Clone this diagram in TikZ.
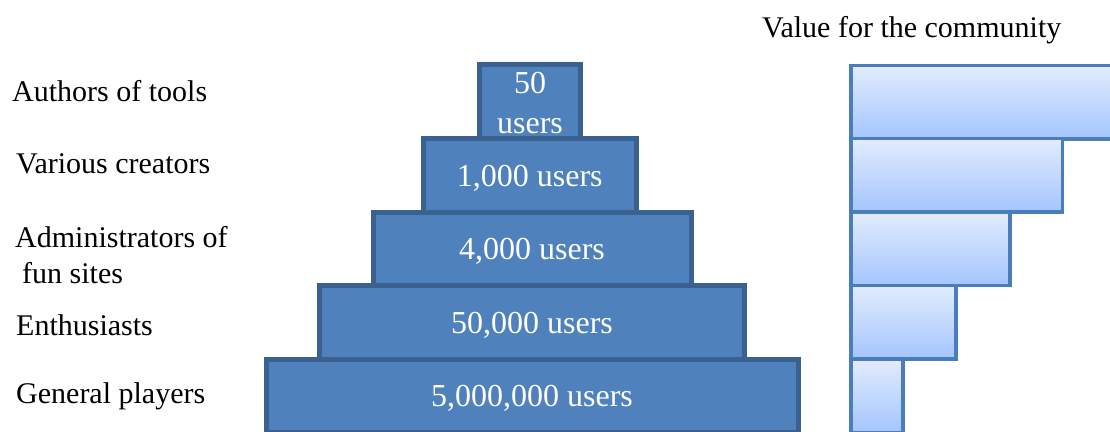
\documentclass[tikz,border=0pt]{standalone}
\usepackage{fontspec}
\setmainfont{Liberation Serif}
\usepackage{xcolor}
\definecolor{tierfill}{HTML}{4F81BD}
\definecolor{tierline}{HTML}{3A6190}
\definecolor{barline}{HTML}{4A7EBB}
\definecolor{bartop}{HTML}{E2ECFD}
\definecolor{barbot}{HTML}{A4C5FE}

\begin{document}
\begin{tikzpicture}[x=1pt, y=-1pt,
   tier/.style={draw=tierline, fill=tierfill, line width=5pt, outer sep=0pt,
                inner sep=0pt, minimum height=73.5pt, text=white,
                font=\fontsize{32}{40}\selectfont, text height=22pt, text depth=0pt},
   bar/.style={draw=barline, line width=3.5pt, outer sep=0pt, inner sep=0pt,
               top color=bartop, bottom color=barbot, minimum height=73.5pt,
               anchor=north west},
   lbl/.style={anchor=base west, inner sep=0pt, align=left,
               font=\fontsize{30}{36}\selectfont}]
  \clip (0,0) rectangle (1110,431);
  % pyramid of users, top tier first so each lower tier covers the seam
  \node[tier, minimum width=101pt] (authors) at (530,101.25) {};
  \node[text=white, align=center, anchor=base, inner sep=0pt,
        font=\fontsize{32}{40}\selectfont] (authorsnum) at (530,133) {50\\users};
  \node[tier, minimum width=212.5pt] (creators) at (529.75,175.25) {1,000 users};
  \node[tier, minimum width=318pt]   (admins)   at (532,248.75)   {4,000 users};
  \node[tier, minimum width=425pt]   (fans)     at (532,322.25)   {50,000 users};
  \node[tier, minimum width=532pt]   (players)  at (532,395.75)   {5,000,000 users};

  % group names (base of a two-line node is its last line)
  \node[lbl] (authorslbl)  at (12,101)  {Authors of tools};
  \node[lbl] (creatorslbl) at (16,173)  {Various creators};
  \node[lbl] (adminslbl)   at (15,283)  {Administrators of\\\hspace*{7pt}fun sites};
  \node[lbl] (fanslbl)     at (16,335)  {Enthusiasts};
  \node[lbl] (playerslbl)  at (16,403)  {General players};

  % value bars
  \node[lbl] (valuelbl) at (762,37) {Value for the community};
  \node[bar, minimum width=280pt] (v1) at (851,65.5)  {};
  \node[bar, minimum width=211.5pt] (v2) at (851,138.5) {};
  \node[bar, minimum width=159pt] (v3) at (851,212)   {};
  \node[bar, minimum width=105pt] (v4) at (851,285.5) {};
  \node[bar, minimum width=52pt]  (v5) at (851,359)   {};
\end{tikzpicture}
\end{document}
